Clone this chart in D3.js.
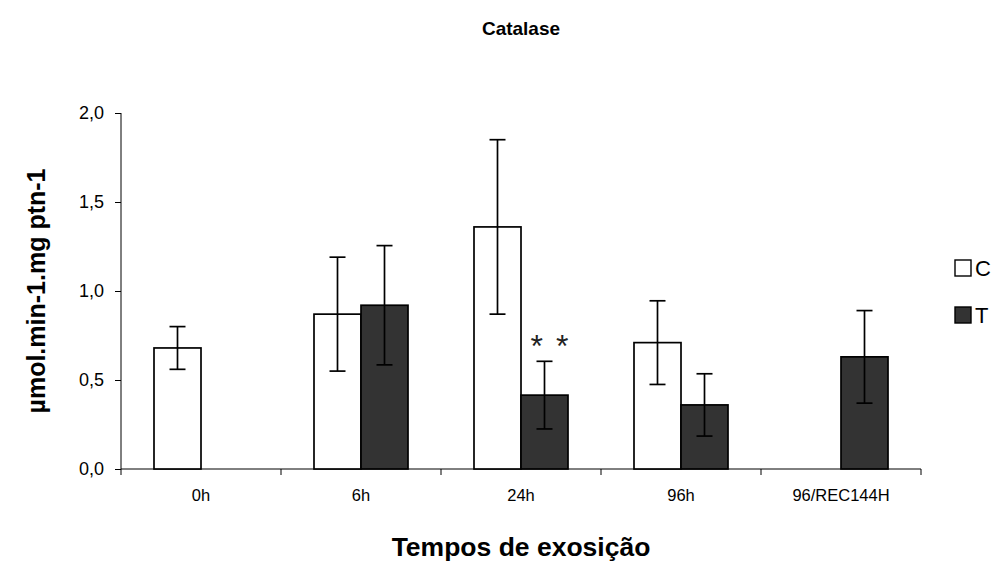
<!DOCTYPE html>
<html>
<head>
<meta charset="utf-8">
<script src="https://cdnjs.cloudflare.com/ajax/libs/d3/7.8.5/d3.min.js"></script>
<style>
  body { margin: 0; background: #fff; }
  svg text { font-family: Arial, "Liberation Sans", sans-serif; fill: #000; }
</style>
</head>
<body>
<div id="chart"></div>
<script>
// data
var cats = ["0h", "6h", "24h", "96h", "96/REC144H"];
var series = ["C", "T"];
var valuesC = [0.68, 0.87, 1.36, 0.71, null];
var errC = [0.12, 0.32, 0.49, 0.235, null];
var valuesT = [null, 0.92, 0.415, 0.36, 0.63];
var errT = [null, 0.335, 0.19, 0.175, 0.26];
var yTicks = [0, 0.5, 1.0, 1.5, 2.0];
var marks = [{ category: "24h", series: "T", text: "* *" }];

var W = 1002, H = 563;
var margin = { top: 113, left: 121, right: 81, bottom: 94 };
var width = W - margin.left - margin.right;
var height = H - margin.top - margin.bottom;

var fills = { C: "#ffffff", T: "#333333" };
var vals = { C: valuesC, T: valuesT };
var errs = { C: errC, T: errT };

var data = [];
cats.forEach(function(c, i) {
  series.forEach(function(s) {
    if (vals[s][i] !== null) {
      data.push({ category: c, series: s, value: vals[s][i], err: errs[s][i] });
    }
  });
});

var svg = d3.select("#chart").append("svg")
  .attr("width", W)
  .attr("height", H);

svg.append("text")
  .attr("x", margin.left + width / 2)
  .attr("y", 35)
  .style("text-anchor", "middle")
  .style("font-weight", "bold")
  .style("font-size", "19px")
  .text("Catalase");

var g = svg.append("g")
  .attr("transform", "translate(" + margin.left + "," + margin.top + ")");

var x = d3.scaleBand().domain(cats).range([0, width]);
var xs = d3.scaleBand().domain(series).range([-47, 47]);
var y = d3.scaleLinear().domain([0, 2]).range([height, 0]);

var fmt = function(d) { return d3.format(".1f")(d).replace(".", ","); };

// y axis
var yAxis = g.append("g")
  .attr("class", "y axis")
  .call(d3.axisLeft(y).tickValues(yTicks).tickFormat(fmt).tickSize(6).tickPadding(11));
yAxis.select(".domain").attr("d", "M0," + height + "V0H0");
yAxis.selectAll("text").style("font-size", "18px");

// x axis: ticks on category boundaries
var xAxis = g.append("g")
  .attr("class", "x axis")
  .attr("transform", "translate(0," + height + ")");
xAxis.append("line")
  .attr("x1", 0).attr("x2", width)
  .attr("stroke", "#000");
xAxis.selectAll(".bound")
  .data(d3.range(cats.length + 1))
  .enter()
  .append("line")
  .attr("class", "bound")
  .attr("x1", function(i) { return i * x.step(); })
  .attr("x2", function(i) { return i * x.step(); })
  .attr("y1", 0).attr("y2", 6)
  .attr("stroke", "#000");
xAxis.selectAll(".lab")
  .data(cats)
  .enter()
  .append("text")
  .attr("class", "lab")
  .attr("x", function(d) { return x(d) + x.bandwidth() / 2; })
  .attr("y", 32)
  .style("text-anchor", "middle")
  .style("font-size", "16.5px")
  .text(function(d) { return d; });

// bars
var bx = function(d) { return x(d.category) + x.bandwidth() / 2 + xs(d.series); };
g.selectAll(".bar")
  .data(data)
  .enter()
  .append("rect")
  .attr("class", "bar")
  .attr("x", bx)
  .attr("width", xs.bandwidth())
  .attr("y", function(d) { return y(d.value); })
  .attr("height", function(d) { return height - y(d.value); })
  .attr("fill", function(d) { return fills[d.series]; })
  .attr("stroke", "#000")
  .attr("stroke-width", 1.7);

// error bars
var eb = g.selectAll(".err")
  .data(data)
  .enter()
  .append("g")
  .attr("class", "err")
  .attr("transform", function(d) { return "translate(" + (bx(d) + xs.bandwidth() / 2) + ",0)"; })
  .attr("stroke", "#000")
  .attr("stroke-width", 1.7);
eb.append("line")
  .attr("y1", function(d) { return y(d.value + d.err); })
  .attr("y2", function(d) { return y(d.value - d.err); });
eb.append("line")
  .attr("x1", -8).attr("x2", 8)
  .attr("y1", function(d) { return y(d.value + d.err); })
  .attr("y2", function(d) { return y(d.value + d.err); });
eb.append("line")
  .attr("x1", -8).attr("x2", 8)
  .attr("y1", function(d) { return y(d.value - d.err); })
  .attr("y2", function(d) { return y(d.value - d.err); });

// significance marks
g.selectAll(".sig")
  .data(marks)
  .enter()
  .append("text")
  .attr("class", "sig")
  .attr("x", function(d) { return x(d.category) + x.bandwidth() / 2 + xs(d.series) + xs.bandwidth() / 2 + 6; })
  .attr("y", function(d) {
    var i = cats.indexOf(d.category);
    return y(vals[d.series][i] + errs[d.series][i]) - 4;
  })
  .style("text-anchor", "middle")
  .style("font-size", "32px")
  .style("letter-spacing", "2px")
  .style("fill", "#222")
  .text(function(d) { return d.text; });

// axis titles
svg.append("text")
  .attr("transform", "rotate(-90)")
  .attr("x", -(margin.top + height / 2))
  .attr("y", 45)
  .style("text-anchor", "middle")
  .style("font-weight", "bold")
  .style("font-size", "25px")
  .text("µmol.min-1.mg ptn-1");

svg.append("text")
  .attr("x", margin.left + width / 2)
  .attr("y", 556)
  .style("text-anchor", "middle")
  .style("font-weight", "bold")
  .style("font-size", "26.5px")
  .text("Tempos de exosição");

// legend
var legend = svg.selectAll(".legend")
  .data(series)
  .enter()
  .append("g")
  .attr("class", "legend")
  .attr("transform", function(d, i) { return "translate(955," + (260 + i * 47) + ")"; });
legend.append("rect")
  .attr("width", 16).attr("height", 16)
  .attr("fill", function(d) { return fills[d]; })
  .attr("stroke", "#000")
  .attr("stroke-width", 1.4);
legend.append("text")
  .attr("x", 20)
  .attr("y", 16)
  .style("font-size", "22px")
  .text(function(d) { return d; });
</script>
</body>
</html>
